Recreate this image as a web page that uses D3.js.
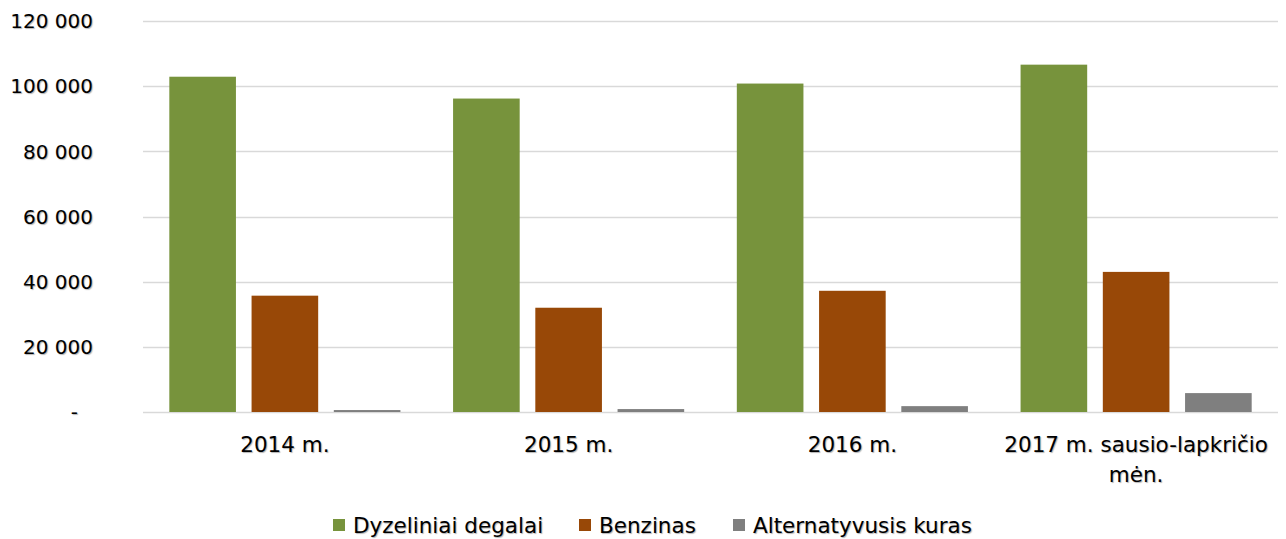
<!DOCTYPE html>
<html lang="en">
<head>
    <meta charset="UTF-8">
    <title>Degalai</title>
    <style>
        body { margin: 0; background: #fff; }
        text {
            font-family: "DejaVu Sans", sans-serif;
            fill: #000;
            text-shadow: 1px 1px 1px rgba(0,0,0,0.3);
        }
    </style>
</head>
<body>
    <script src="https://d3js.org/d3.v7.min.js"></script>
    <script type="text/javascript">
        var width = 1286, height = 539;

        // data
        var categories = ["2014 m.", "2015 m.", "2016 m.", "2017 m. sausio-lapkričio mėn."];
        var seriesNames = ["Dyzeliniai degalai", "Benzinas", "Alternatyvusis kuras"];
        var dyzeliniai = [102900, 96200, 100800, 106600];
        var benzinas = [35700, 32000, 37200, 43000];
        var alternatyvusis = [600, 900, 1800, 5800];
        var yTicks = [0, 20000, 40000, 60000, 80000, 100000, 120000];
        var colors = ["#77933C", "#984807", "#7F7F7F"];

        var series = [dyzeliniai, benzinas, alternatyvusis];

        var margin = { left: 143, right: 8, top: 21, bottom: 127 };

        var svg = d3.select("body").append("svg")
            .attr("width", width)
            .attr("height", height);

        var x0 = d3.scaleBand()
            .domain(categories)
            .range([margin.left, width - margin.right])
            .paddingInner(0)
            .paddingOuter(0);

        var x1 = d3.scaleBand()
            .domain(seriesNames)
            .range([0, x0.bandwidth()])
            .paddingInner(0.19)
            .paddingOuter(0.32);

        var y = d3.scaleLinear()
            .domain([0, 120000])
            .range([height - margin.bottom, margin.top]);

        // gridlines
        svg.append("g")
            .selectAll("line")
            .data(yTicks)
            .enter().append("line")
            .attr("x1", margin.left)
            .attr("x2", width - margin.right)
            .attr("y1", function(d) { return Math.round(y(d)) + 0.5; })
            .attr("y2", function(d) { return Math.round(y(d)) + 0.5; })
            .attr("stroke", "#d9d9d9")
            .attr("stroke-width", 1.5);

        // y tick labels
        var fmt = function(d) {
            if (d === 0) return "-";
            return d3.format(",")(d).replace(/,/g, " ");
        };
        svg.append("g")
            .selectAll("text")
            .data(yTicks)
            .enter().append("text")
            .attr("x", function(d) { return d === 0 ? 78 : 93; })
            .attr("y", function(d) { return y(d); })
            .attr("dy", "0.36em")
            .attr("text-anchor", "end")
            .style("font-size", "20px")
            .text(fmt);

        // bars
        var groups = svg.append("g")
            .selectAll("g")
            .data(categories)
            .enter().append("g")
            .attr("transform", function(d) { return "translate(" + x0(d) + ",0)"; });

        groups.selectAll("rect")
            .data(function(d, i) {
                return seriesNames.map(function(s, j) {
                    return { name: s, value: series[j][i], color: colors[j] };
                });
            })
            .enter().append("rect")
            .attr("x", function(d) { return x1(d.name); })
            .attr("width", x1.bandwidth())
            .attr("y", function(d) { return y(d.value); })
            .attr("height", function(d) { return y(0) - y(d.value); })
            .attr("fill", function(d) { return d.color; });

        // category labels (the long one wraps)
        var catLines = function(c) {
            if (c.length > 20) return ["2017 m. sausio-lapkričio", "mėn."];
            return [c];
        };
        svg.append("g")
            .selectAll("text")
            .data(categories)
            .enter().append("text")
            .attr("x", function(d) { return x0(d) + x0.bandwidth() / 2; })
            .attr("y", 452)
            .attr("text-anchor", "middle")
            .style("font-size", "21.5px")
            .each(function(d) {
                var t = d3.select(this);
                catLines(d).forEach(function(line, k) {
                    t.append("tspan")
                        .attr("x", x0(d) + x0.bandwidth() / 2)
                        .attr("dy", k === 0 ? 0 : 30)
                        .text(line);
                });
            });

        // legend
        var legendX = [333, 579, 733];
        var legend = svg.append("g")
            .selectAll("g")
            .data(seriesNames)
            .enter().append("g")
            .attr("transform", function(d, i) { return "translate(" + legendX[i] + ",519)"; });

        legend.append("rect")
            .attr("width", 12)
            .attr("height", 12)
            .attr("fill", function(d, i) { return colors[i]; });

        legend.append("text")
            .attr("x", 20)
            .attr("y", 6)
            .attr("dy", "0.36em")
            .style("font-size", "21.5px")
            .text(function(d) { return d; });
    </script>
</body>
</html>
